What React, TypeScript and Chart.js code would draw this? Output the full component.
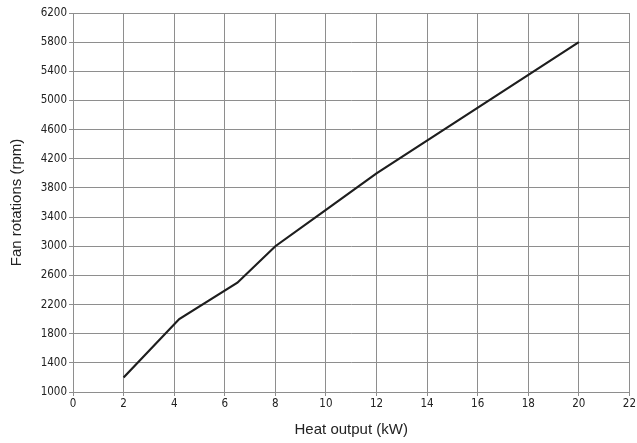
import React, { useEffect, useRef } from "react";
import { Chart, registerables } from "chart.js";

Chart.register(...registerables);

const heatOutput = [2, 4.2, 6.5, 8, 10, 12, 20];
const fanRpm = [1200, 2000, 2500, 3000, 3500, 4000, 5800];
const xTitle = "Heat output (kW)";
const yTitle = "Fan rotations (rpm)";

export default function App() {
  const ref = useRef<HTMLCanvasElement>(null);
  useEffect(() => {
    document.body.style.margin = "0";
    const grid = "#8e8e8e";
    const tickFont = { family: "'DejaVu Sans Condensed', 'Open Sans', sans-serif", size: 11.5 };
    const titleFont = { family: "'Liberation Sans', Arial, sans-serif", size: 15 };
    const chart = new Chart(ref.current!, {
      type: "line",
      data: {
        datasets: [
          {
            data: heatOutput.map((x, i) => ({ x, y: fanRpm[i] })),
            borderColor: "#1e1e1e",
            borderWidth: 2.2,
            pointRadius: 0,
            tension: 0,
            fill: false,
          },
        ],
      },
      options: {
        animation: false,
        responsive: false,
        maintainAspectRatio: false,
        layout: { padding: { left: 8, right: 7, top: 13, bottom: 4 } },
        plugins: { legend: { display: false }, tooltip: { enabled: false } },
        scales: {
          x: {
            type: "linear",
            min: 0,
            max: 22,
            ticks: {
              stepSize: 2,
              color: "#222",
              font: tickFont,
              padding: 1,
              maxRotation: 0,
              callback: (v: any) => String(v),
            },
            grid: { color: grid, lineWidth: 1, tickLength: 4 },
            border: { color: grid, width: 1 },
            title: { display: true, text: xTitle, color: "#222", font: titleFont, padding: { top: 3, bottom: 0 } },
            afterFit: (s: any) => {
              s.height = 47;
            },
          },
          y: {
            type: "linear",
            min: 1000,
            max: 6200,
            ticks: { stepSize: 400, color: "#222", font: tickFont, padding: 2, callback: (v: any) => String(v) },
            grid: { color: grid, lineWidth: 1, tickLength: 4 },
            border: { color: grid, width: 1 },
            title: { display: true, text: yTitle, color: "#222", font: titleFont, padding: { top: 0, bottom: 6 } },
            afterFit: (s: any) => {
              s.width = 65;
            },
          },
        },
      },
      plugins: [
        {
          id: "topRightBorder",
          afterDraw(c: any) {
            const { ctx, chartArea } = c;
            ctx.save();
            ctx.strokeStyle = grid;
            ctx.lineWidth = 1;
            ctx.beginPath();
            ctx.moveTo(chartArea.left, chartArea.top + 0.5);
            ctx.lineTo(chartArea.right, chartArea.top + 0.5);
            ctx.stroke();
            ctx.restore();
          },
        },
      ],
    });
    return () => chart.destroy();
  }, []);
  return (
    <div style={{ width: 637, height: 443 }}>
      <canvas ref={ref} width={637} height={443} style={{ display: "block" }} />
    </div>
  );
}
